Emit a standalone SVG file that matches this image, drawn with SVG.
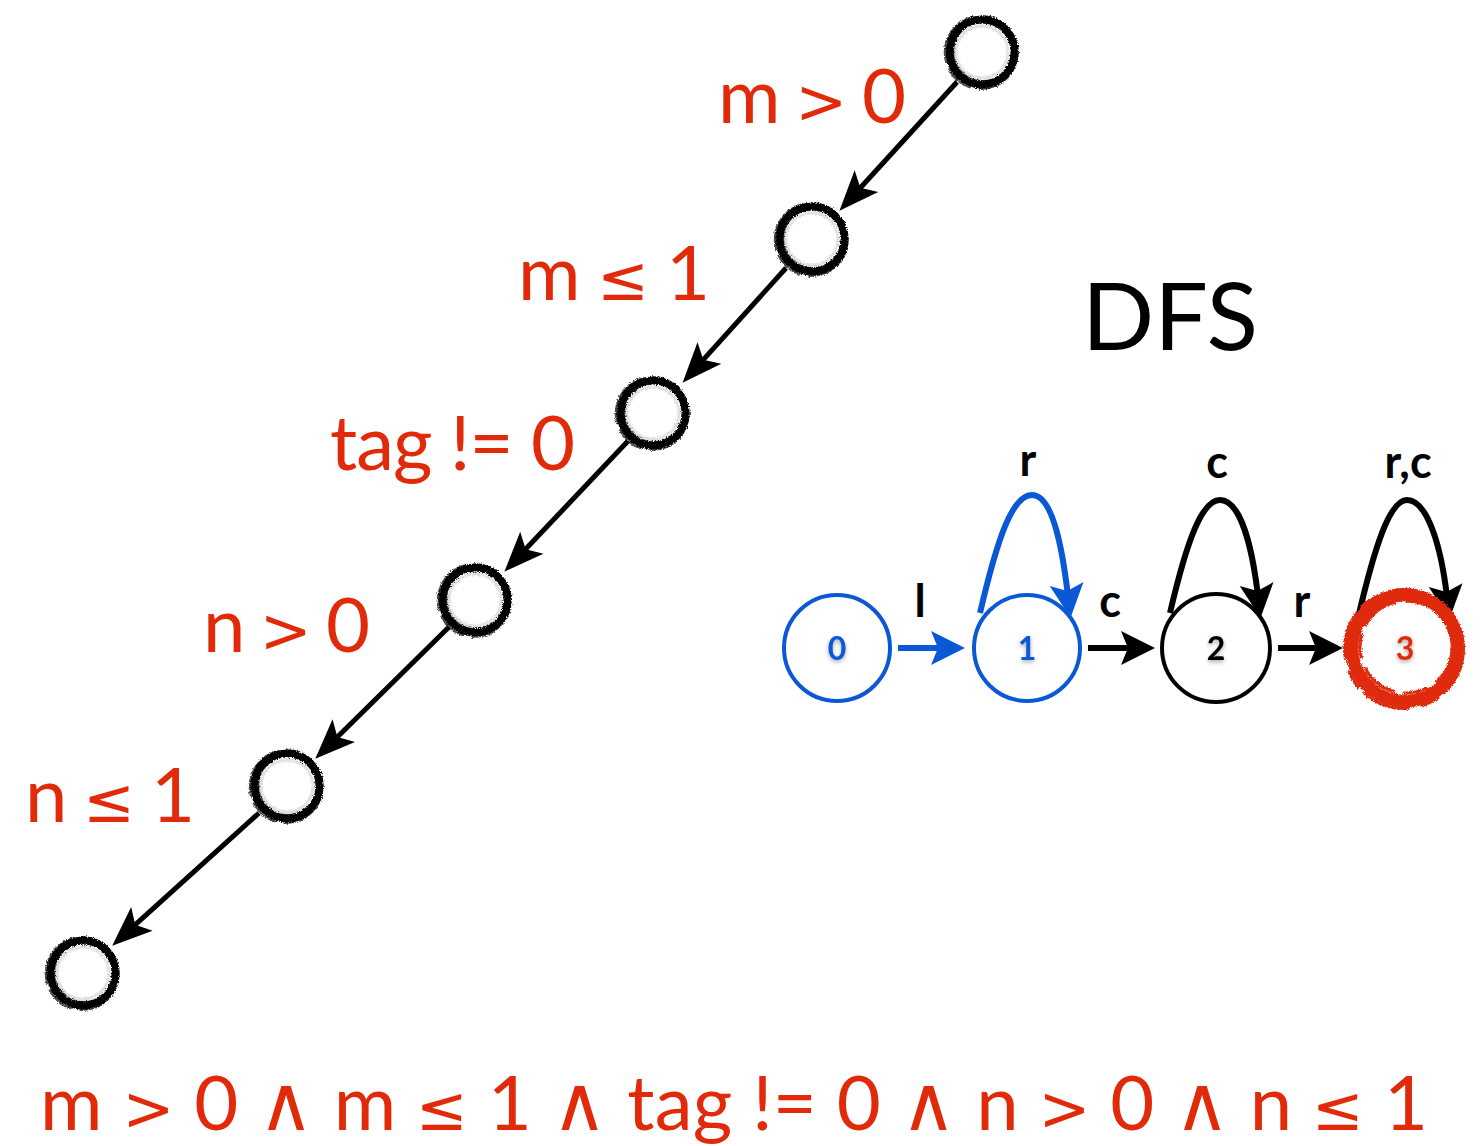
<svg xmlns="http://www.w3.org/2000/svg" width="1481" height="1146" viewBox="0 0 1481 1146">
<defs>
<style>
.lbl{font-family:Lato,"Open Sans","DejaVu Sans",sans-serif;font-size:76px;fill:#e02a0a}
.sym{font-family:"DejaVu Sans",sans-serif;font-size:62px}
.el{font-family:Lato,"Open Sans","DejaVu Sans",sans-serif;font-weight:bold;font-size:45px;fill:#000;text-anchor:middle}
.num{font-family:Lato,"Open Sans","DejaVu Sans",sans-serif;font-weight:bold;font-size:32px;text-anchor:middle}
.ring{fill:none;stroke:#000}
.diag{stroke:#000;stroke-width:5;fill:none;marker-end:url(#ahBig)}
.blue{stroke:#0a58d6;stroke-width:6;fill:none}
.blk{stroke:#000;stroke-width:6;fill:none}
</style>
<filter id="brush" x="-30%" y="-30%" width="160%" height="160%">
<feTurbulence type="fractalNoise" baseFrequency="0.8" numOctaves="2" seed="4" result="n"/>
<feDisplacementMap in="SourceGraphic" in2="n" scale="4" xChannelSelector="R" yChannelSelector="G"/>
</filter>
<filter id="glow" x="-50%" y="-50%" width="200%" height="200%">
<feDropShadow dx="0" dy="2" stdDeviation="2" flood-color="#000" flood-opacity="0.35"/>
</filter>
<marker id="ahBig" markerUnits="userSpaceOnUse" viewBox="-18 -18 46 36" refX="0" refY="0" markerWidth="46" markerHeight="36" orient="auto">
<path d="M26,0 L-14,-16 L-5,0 L-14,16 Z" fill="#000"/>
</marker>
<marker id="ahBlue" markerUnits="userSpaceOnUse" viewBox="-15 -19 40 38" refX="0" refY="0" markerWidth="40" markerHeight="38" orient="auto">
<path d="M22,0 L-12,-17 L-5,0 L-12,17 Z" fill="#0a58d6"/>
</marker>
<marker id="ahBlack" markerUnits="userSpaceOnUse" viewBox="-15 -19 40 38" refX="0" refY="0" markerWidth="40" markerHeight="38" orient="auto">
<path d="M22,0 L-12,-17 L-5,0 L-12,17 Z" fill="#000"/>
</marker>
<g id="brushRing">
<circle r="32.5" class="ring" stroke-width="8"/>
<circle r="29.5" cx="0.8" cy="-0.5" class="ring" stroke-width="2" opacity="0.6"/>
<circle r="36.5" cx="-0.8" cy="0.6" class="ring" stroke-width="2" opacity="0.7" stroke-dasharray="60 8 30 6"/>
<circle r="26" class="ring" stroke-width="3" opacity="0.12"/>
</g>
</defs>
<rect width="1481" height="1146" fill="#fff"/>

<g id="connectors">
<line class="diag" x1="957" y1="82" x2="857" y2="191.5"/>
<line class="diag" x1="786" y1="268" x2="700" y2="363.4"/>
<line class="diag" x1="628" y1="441" x2="522.2" y2="552.8"/>
<line class="diag" x1="449" y1="627" x2="333.8" y2="740.5"/>
<line class="diag" x1="259" y1="813" x2="131.5" y2="928.2"/>
<line class="blue" x1="898" y1="648" x2="943" y2="648" marker-end="url(#ahBlue)"/>
<line class="blk" x1="1088" y1="648" x2="1133" y2="648" marker-end="url(#ahBlack)"/>
<line class="blk" x1="1278" y1="648" x2="1321" y2="648" marker-end="url(#ahBlack)"/>
<path class="blue" d="M980,613 C997,540 1012,495 1032,495 C1052,495 1062,545 1068,596" marker-end="url(#ahBlue)"/>
<path class="blk" d="M1170,613 C1187,540 1202,500 1220,500 C1240,500 1252,545 1258,596" marker-end="url(#ahBlack)"/>
<path class="blk" d="M1358,618 C1375,545 1390,500 1407,500 C1427,500 1441,545 1447,597" marker-end="url(#ahBlack)"/>
<text class="el" x="920" y="617">l</text>
<text class="el" x="1110" y="617">c</text>
<text class="el" x="1302" y="617">r</text>
<text class="el" x="1028" y="476">r</text>
<text class="el" x="1217" y="478">c</text>
<text class="el" x="1408" y="478">r,c</text>
</g>

<g id="path-node-1" filter="url(#brush)"><use href="#brushRing" x="982" y="52"/></g>
<g id="path-node-2" filter="url(#brush)"><use href="#brushRing" x="812" y="239"/></g>
<g id="path-node-3" filter="url(#brush)"><use href="#brushRing" x="653" y="413"/></g>
<g id="path-node-4" filter="url(#brush)"><use href="#brushRing" x="475" y="600"/></g>
<g id="path-node-5" filter="url(#brush)"><use href="#brushRing" x="287" y="786"/></g>
<g id="path-node-6" filter="url(#brush)"><use href="#brushRing" x="83" y="973"/></g>

<g id="labels">
<text class="lbl" x="718" y="123" textLength="188" lengthAdjust="spacing">m <tspan class="sym">&gt;</tspan> 0</text>
<text class="lbl" x="518" y="300" textLength="192" lengthAdjust="spacing">m <tspan class="sym">≤</tspan> 1</text>
<text class="lbl" x="330" y="470" textLength="245" lengthAdjust="spacing">tag != 0</text>
<text class="lbl" x="203" y="652" textLength="167" lengthAdjust="spacing">n <tspan class="sym">&gt;</tspan> 0</text>
<text class="lbl" x="25" y="822" textLength="170" lengthAdjust="spacing">n <tspan class="sym">≤</tspan> 1</text>
<text class="lbl" x="40" y="1130" textLength="1388" lengthAdjust="spacing">m <tspan class="sym">&gt;</tspan> 0 ∧ m <tspan class="sym">≤</tspan> 1 ∧ tag != 0 ∧ n <tspan class="sym">&gt;</tspan> 0 ∧ n <tspan class="sym">≤</tspan> 1</text>
</g>

<g id="title"><text x="1082" y="350" font-family="Lato,'Open Sans','DejaVu Sans',sans-serif" font-size="94" fill="#000" textLength="176" lengthAdjust="spacingAndGlyphs">DFS</text></g>

<g id="state-0">
<circle cx="837" cy="648" r="53" fill="none" stroke="#0a58d6" stroke-width="4"/>
<text class="num" x="837" y="660" fill="#0a58d6" filter="url(#glow)">0</text>
</g>
<g id="state-1">
<circle cx="1027" cy="648" r="53" fill="none" stroke="#0a58d6" stroke-width="4"/>
<text class="num" x="1027" y="660" fill="#0a58d6" filter="url(#glow)">1</text>
</g>
<g id="state-2">
<circle cx="1216" cy="648" r="54" fill="none" stroke="#000" stroke-width="4"/>
<text class="num" x="1216" y="660" fill="#000" filter="url(#glow)">2</text>
</g>
<g id="state-3">
<g filter="url(#brush)">
<circle cx="1405" cy="648" r="53" fill="none" stroke="#e02a0a" stroke-width="13"/>
<circle cx="1406" cy="647" r="46" fill="none" stroke="#e02a0a" stroke-width="3" stroke-dasharray="40 10 25 8"/>
<circle cx="1404" cy="649" r="59.5" fill="none" stroke="#e02a0a" stroke-width="3" stroke-dasharray="50 6 20 12"/>
</g>
<text class="num" x="1405" y="660" fill="#e02a0a" filter="url(#glow)">3</text>
</g>
</svg>
